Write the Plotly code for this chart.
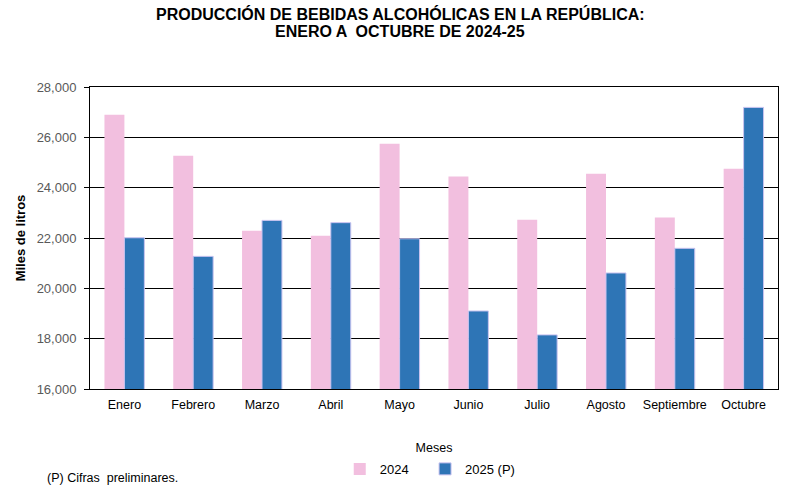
import plotly.graph_objects as go

meses = ["Enero", "Febrero", "Marzo", "Abril", "Mayo", "Junio", "Julio", "Agosto", "Septiembre", "Octubre"]
valores_2024 = [26900, 25270, 22290, 22090, 25750, 24440, 22730, 24555, 22810, 24750]
valores_2025 = [22010, 21270, 22700, 22610, 21970, 19100, 18150, 20610, 21590, 27190]
y_ticks = [16000, 18000, 20000, 22000, 24000, 26000, 28000]

FONT = "Liberation Sans, Arial, sans-serif"

fig = go.Figure()
fig.add_trace(go.Bar(x=meses, y=valores_2024, name="2024", legend="legend",
                     marker=dict(color="#F2BFDF", line=dict(width=0))))
fig.add_trace(go.Bar(x=meses, y=valores_2025, name="2025 (P)", legend="legend2",
                     marker=dict(color="#2E75B6", line=dict(color="#C9C3F0", width=1))))

leg_common = dict(orientation="h", xanchor="left", xref="paper",
                  y=-0.215, yanchor="top", yref="paper",
                  font=dict(size=13, color="#000000"), itemwidth=30,
                  bgcolor="rgba(0,0,0,0)")

fig.update_layout(
    width=794, height=492,
    margin=dict(l=90, r=16, t=87, b=103, autoexpand=False),
    paper_bgcolor="white", plot_bgcolor="white",
    font=dict(family=FONT, size=12, color="#000000"),
    barmode="group", bargap=0.42, bargroupgap=0,
    showlegend=True,
    legend=dict(x=0.363, **leg_common),
    legend2=dict(x=0.487, **leg_common),
    xaxis=dict(showline=True, linecolor="black", linewidth=1, mirror=True,
               automargin=False, ticklabelstandoff=4,
               ticks="", tickfont=dict(size=12.5, color="#000000"),
               title=dict(text="Meses", font=dict(size=12.5), standoff=32)),
    yaxis=dict(range=[16000, 28000], tickvals=y_ticks, tickformat=",d",
               automargin=False, ticklabelstandoff=5,
               showline=True, linecolor="black", linewidth=1, mirror=True,
               showgrid=True, gridcolor="black", gridwidth=1,
               ticks="outside", ticklen=5, tickcolor="black",
               tickfont=dict(size=13, color="#595959"),
               title=dict(text="<b>Miles de litros</b>", font=dict(size=13), standoff=8)),
    annotations=[
        dict(text="<b>PRODUCCIÓN DE BEBIDAS ALCOHÓLICAS EN LA REPÚBLICA:</b>",
             xref="paper", yref="paper", x=0.451, y=1.2417, xanchor="center", yanchor="middle",
             showarrow=False, font=dict(family=FONT, size=16, color="#000000")),
        dict(text="<b>ENERO A  OCTUBRE DE 2024-25</b>",
             xref="paper", yref="paper", x=0.451, y=1.1854, xanchor="center", yanchor="middle",
             showarrow=False, font=dict(family=FONT, size=16, color="#000000")),
        dict(text="(P) Cifras  preliminares.", xref="paper", yref="paper",
             x=-0.066, y=-0.295, xanchor="left", yanchor="middle",
             showarrow=False, font=dict(size=12.5, color="#000000")),
    ],
)

fig.write_html("out.html", config={"displayModeBar": False},
               post_script="document.body.style.margin='0px';document.body.style.padding='0px';")
